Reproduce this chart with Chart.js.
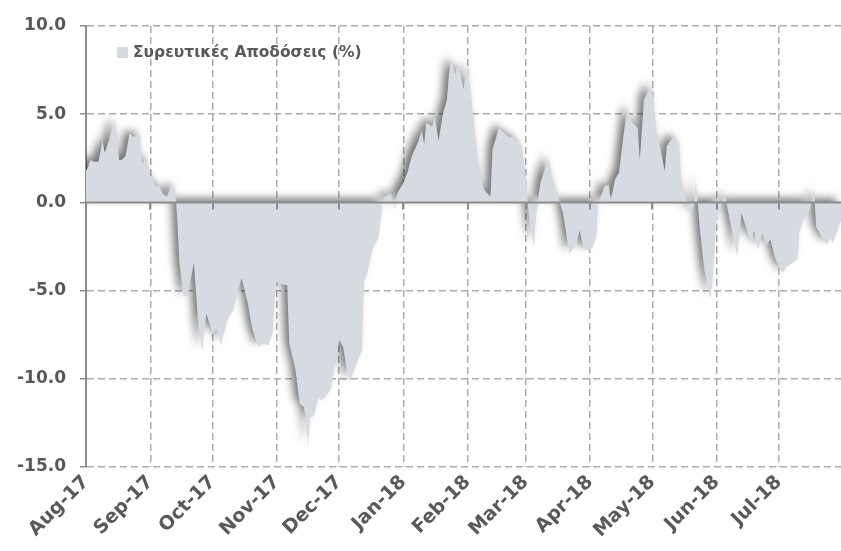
<!DOCTYPE html>
<html>
<head>
<meta charset="utf-8">
<script src="https://cdn.jsdelivr.net/npm/chart.js@4.4.1/dist/chart.umd.min.js"></script>
<style>
  html, body { margin: 0; padding: 0; background: #ffffff; }
  #wrap { width: 841px; height: 551px; }
</style>
</head>
<body>
<div id="wrap"><canvas id="c" width="841" height="551"></canvas></div>
<script>
// ---- data ----
const seriesLabel = 'Συρευτικές Αποδόσεις (%)';
const startDate = '2017-08-01';
const monthLabels = ['Aug-17','Sep-17','Oct-17','Nov-17','Dec-17','Jan-18','Feb-18','Mar-18','Apr-18','May-18','Jun-18','Jul-18'];
const monthOffsets = [0,31,61,92,122,153,184,212,243,273,304,334]; // days since startDate
const yTickValues = [10,5,0,-5,-10,-15];
const dayOffsets = [0,1,2,4,6,8,9,11,14,16,17,19,21,23,26,27,29,31,34,35,37,39,41,43,44,45,47,49,52,54,56,58,61,63,65,68,71,73,75,78,80,83,85,88,90,91,92,93,97,98,101,103,105,106,107,108,110,112,113,115,118,119,121,122,124,126,127,129,133,134,135,138,141,143,144,147,149,150,153,155,157,160,162,163,164,167,168,170,172,174,175,176,178,179,180,182,184,185,187,189,191,192,195,196,199,201,204,206,208,210,212,213,214,216,217,219,223,225,227,230,233,236,238,240,242,244,246,247,250,252,253,255,257,259,261,263,266,267,269,272,273,275,277,279,280,283,286,287,289,291,293,294,296,298,301,302,304,305,308,309,312,314,316,319,321,322,324,326,328,330,332,334,336,338,341,343,344,346,349,351,352,355,357,359,360,362,364];
const returnsPct = [1.8,2.0,2.4,2.3,2.3,3.5,2.8,3.5,4.7,2.4,2.4,2.6,3.9,3.7,3.9,2.2,2.6,1.5,0.9,1.0,0.5,0.3,0.9,0.8,-1.0,-3.4,-5.3,-5.3,-3.4,-6.7,-8.5,-6.3,-7.4,-7.2,-8.1,-6.7,-6.1,-5.1,-4.3,-5.7,-7.1,-8.2,-8.0,-8.1,-7.4,-5.3,-4.5,-4.6,-4.7,-8.0,-9.5,-11.4,-11.6,-12.2,-13.9,-12.2,-12.1,-11.0,-11.2,-11.1,-10.6,-9.9,-8.8,-7.8,-8.2,-9.7,-10.2,-9.6,-8.4,-4.4,-4.3,-2.7,-2.0,0.0,0.3,0.5,-0.4,0.5,1.1,1.7,2.6,3.4,4.1,3.3,4.5,4.3,4.9,3.5,5.0,5.8,7.3,8.1,7.3,7.7,7.6,6.4,7.8,6.8,4.5,2.4,1.1,0.7,0.3,3.0,4.2,4.0,3.7,3.7,3.4,3.2,1.5,0.0,-1.3,-2.5,-0.8,1.1,2.5,1.3,0.5,-0.6,-2.9,-2.5,-1.6,-2.7,-2.7,-2.6,-2.0,0.0,0.9,1.0,0.1,1.3,1.7,3.7,5.4,4.6,4.2,2.4,5.8,6.5,6.4,4.1,3.0,1.8,3.2,3.7,3.3,1.1,0.4,-0.6,-0.2,1.3,-1.6,-3.7,-5.5,-4.5,-1.0,-0.6,0.5,-0.2,-1.9,-3.1,-0.6,-1.7,-2.2,-1.6,-2.7,-1.8,-2.4,-2.1,-3.1,-3.6,-4.0,-3.6,-3.4,-3.2,-1.6,-1.0,-0.4,0.7,-1.4,-2.0,-2.4,-2.0,-2.3,-1.7,-1.0];

// ---- styles ----
const FONT = '"DejaVu Sans", "Open Sans", sans-serif';
const TEXT = '#595959';
const FILL = '#D6DBE2';
const AXIS = '#8C8C8C';
const GRID = '#ABABAB';

const points = dayOffsets.map((d, i) => ({ x: d, y: returnsPct[i] }));

const shadowAndZero = {
  id: 'shadowAndZero',
  beforeDatasetsDraw(chart) {
    const ctx = chart.ctx;
    ctx.save();
    ctx.shadowColor = 'rgba(0,0,0,0.55)';
    ctx.shadowBlur = 9;
    ctx.shadowOffsetX = -5;
    ctx.shadowOffsetY = -4;
  },
  afterDatasetsDraw(chart) {
    const ctx = chart.ctx;
    ctx.restore();
    const xs = chart.scales.x, ys = chart.scales.y;
    const y0 = ys.getPixelForValue(0);
    ctx.save();
    ctx.strokeStyle = AXIS;
    ctx.lineWidth = 2;
    ctx.beginPath();
    ctx.moveTo(chart.chartArea.left, y0);
    ctx.lineTo(chart.chartArea.right, y0);
    monthOffsets.forEach(m => {
      const px = Math.round(xs.getPixelForValue(m));
      ctx.moveTo(px, y0);
      ctx.lineTo(px, y0 + 7);
    });
    ctx.stroke();
    ctx.restore();
  },
  afterDraw(chart) {
    const ctx = chart.ctx;
    ctx.save();
    ctx.fillStyle = FILL;
    ctx.fillRect(117, 47, 11, 11);
    ctx.fillStyle = TEXT;
    ctx.font = 'bold 15.5px ' + FONT;
    ctx.textBaseline = 'middle';
    ctx.textAlign = 'left';
    ctx.fillText(chart.data.datasets[0].label, 133, 53);
    ctx.restore();
  }
};

new Chart(document.getElementById('c'), {
  type: 'line',
  data: {
    datasets: [{
      label: seriesLabel,
      data: points,
      parsing: false,
      fill: 'origin',
      backgroundColor: FILL,
      borderWidth: 0,
      borderColor: 'rgba(0,0,0,0)',
      pointRadius: 0,
      tension: 0
    }]
  },
  options: {
    responsive: false,
    animation: false,
    layout: { padding: { top: 26, right: 0, left: 0, bottom: 0 } },
    plugins: { legend: { display: false }, tooltip: { enabled: false } },
    scales: {
      x: {
        type: 'linear',
        min: 0,
        max: 364,
        afterBuildTicks(scale) { scale.ticks = monthOffsets.map(v => ({ value: v })); },
        afterFit(scale) { scale.height = 84; scale.paddingLeft = 0; scale.paddingRight = 0; },
        ticks: {
          autoSkip: false,
          maxRotation: 45,
          minRotation: 45,
          padding: 4,
          color: TEXT,
          font: { family: FONT, size: 19, weight: 'bold' },
          callback: (v, i) => monthLabels[i]
        },
        grid: {
          color: c => (c.index === 0 ? 'rgba(0,0,0,0)' : GRID),
          lineWidth: 1.5,
          drawTicks: false
        },
        border: { display: false, dash: [7, 4] }
      },
      y: {
        min: -15,
        max: 10,
        afterBuildTicks(scale) { scale.ticks = yTickValues.map(v => ({ value: v })); },
        afterFit(scale) { scale.width = 86; },
        ticks: {
          padding: 14,
          color: TEXT,
          font: { family: FONT, size: 17, weight: 'bold' },
          callback: v => Number(v).toFixed(1)
        },
        grid: {
          color: c => (c.tick && c.tick.value === 0 ? 'rgba(0,0,0,0)' : GRID),
          lineWidth: 1.5,
          tickLength: 6,
          tickColor: AXIS,
          tickWidth: 1.5,
          tickBorderDash: []
        },
        border: { display: true, color: AXIS, width: 2, dash: [7, 4] }
      }
    }
  },
  plugins: [shadowAndZero]
});
</script>
</body>
</html>
